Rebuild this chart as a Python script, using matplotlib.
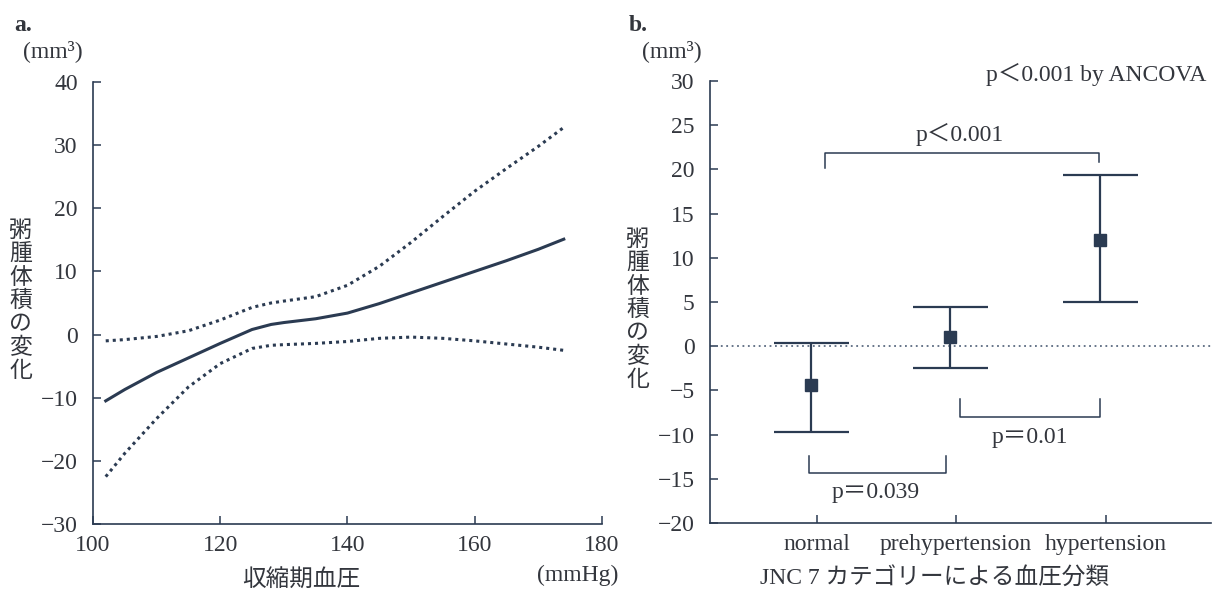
import matplotlib.pyplot as plt

plt.rcParams['font.family'] = ['Liberation Serif', 'Noto Sans CJK JP', 'DejaVu Sans']

# panel a: systolic BP vs change in plaque volume (fit + CI)
bp = [102, 105, 110, 115, 120, 125, 128, 130, 135, 140, 145, 150, 155, 160, 165, 170, 174]
fit = [-10.5, -8.7, -6.0, -3.7, -1.4, 0.8, 1.6, 1.9, 2.5, 3.4, 4.9, 6.6, 8.3, 10.0, 11.7, 13.5, 15.1]
upper = [-1.0, -0.8, -0.3, 0.6, 2.3, 4.3, 5.0, 5.3, 6.0, 7.8, 10.8, 14.6, 18.7, 22.7, 26.3, 29.8, 32.8]
lower = [-22.5, -18.8, -13.3, -8.3, -4.6, -2.2, -1.7, -1.6, -1.4, -1.1, -0.6, -0.4, -0.6, -1.0, -1.5, -2.0, -2.5]

# panel b: JNC 7 categories
cats = ['normal', 'prehypertension', 'hypertension']
cat_pos = [0, 1, 2.08]
means = [-4.4, 1.0, 12.0]
ci_hi = [0.4, 4.4, 19.4]
ci_lo = [-9.7, -2.5, 5.0]

# brackets: (x_left, x_right, y_bar, y_leg_left, y_leg_right, label, label_x, label_y)
brackets = [
    (0.06, 2.03, 21.9, 20.1, 20.8, 'p＜0.001', 1.03, 23.9),
    (-0.06, 0.93, -14.4, -12.4, -12.4, 'p＝0.039', 0.42, -16.6),
    (1.03, 2.04, -8.0, -6.0, -6.0, 'p＝0.01', 1.53, -10.3),
]

ink = '#2b3b52'
txt = '#33363d'
ylab = '粥腫体積の変化'
fs = 17

fig = plt.figure(figsize=(12.19, 5.95), dpi=100)
axa = fig.add_axes([0.0763, 0.1193, 0.4175, 0.743])
axb = fig.add_axes([0.5824, 0.121, 0.411, 0.743])

for ax in (axa, axb):
    ax.spines['top'].set_visible(False)
    ax.spines['right'].set_visible(False)
    for s in ('left', 'bottom'):
        ax.spines[s].set_color(ink)
        ax.spines[s].set_linewidth(1.2)
    ax.tick_params(direction='in', length=6, width=1.1, color=ink,
                   labelsize=fs, labelcolor=txt)
    ax.tick_params(axis='y', pad=11)
    ax.tick_params(axis='x', pad=8)

# ---- a
axa.plot(bp, fit, color=ink, lw=2.2)
axa.plot(bp, upper, color=ink, lw=2.2, ls=(0, (1, 1.3)))
axa.plot(bp, lower, color=ink, lw=2.2, ls=(0, (1, 1.3)))
axa.set_xlim(100, 180)
axa.set_ylim(-30, 40)
axa.set_xticks(range(100, 181, 20))
axa.set_yticks(range(-30, 41, 10))

fig.text(0.012, 0.975, 'a.', fontsize=fs, fontweight='bold', color=txt, va='top')
fig.text(0.043, 0.915, '(mm³)', fontsize=fs, color=txt, ha='center', va='center')
fig.text(0.017, 0.495, '\n'.join(ylab), fontsize=16.5, color=txt, ha='center', va='center',
         linespacing=1.02, family=['Noto Sans CJK JP'])
fig.text(0.247, 0.025, '収縮期血圧', fontsize=fs, color=txt, ha='center', va='center',
         family=['Noto Sans CJK JP'])
fig.text(0.474, 0.033, '(mmHg)', fontsize=fs, color=txt, ha='center', va='center')

# ---- b
axb.axhline(0, color='#5a6a80', lw=1.3, ls=(0, (1, 2)))
x_bar = [p - 0.045 for p in cat_pos]
yerr = [[m - l for m, l in zip(means, ci_lo)], [h - m for m, h in zip(means, ci_hi)]]
axb.errorbar(x_bar, means, yerr=yerr, fmt='s', color=ink, ms=9, elinewidth=1.6,
             capsize=27, capthick=1.6)
for xl, xr, yb, y1, y2, lab, lx, ly in brackets:
    axb.plot([xl, xl, xr, xr], [y1, yb, yb, y2], color=ink, lw=1.1)
    axb.text(lx, ly, lab, fontsize=fs, color=txt, ha='center', va='center')
axb.set_xlim(-0.77, 2.835)
axb.set_ylim(-20, 30)
axb.set_xticks(cat_pos)
axb.set_xticklabels(cats)
axb.set_yticks(range(-20, 31, 5))
axb.text(0.99, 1.015, 'p＜0.001 by ANCOVA', transform=axb.transAxes, fontsize=fs,
         color=txt, ha='right', va='center')

fig.text(0.516, 0.975, 'b.', fontsize=fs, fontweight='bold', color=txt, va='top')
fig.text(0.551, 0.915, '(mm³)', fontsize=fs, color=txt, ha='center', va='center')
fig.text(0.523, 0.48, '\n'.join(ylab), fontsize=16.5, color=txt, ha='center', va='center',
         linespacing=1.02, family=['Noto Sans CJK JP'])
fig.text(0.767, 0.028, 'JNC 7 カテゴリーによる血圧分類', fontsize=fs, color=txt,
         ha='center', va='center')

fig.savefig('out.png', dpi=100)
